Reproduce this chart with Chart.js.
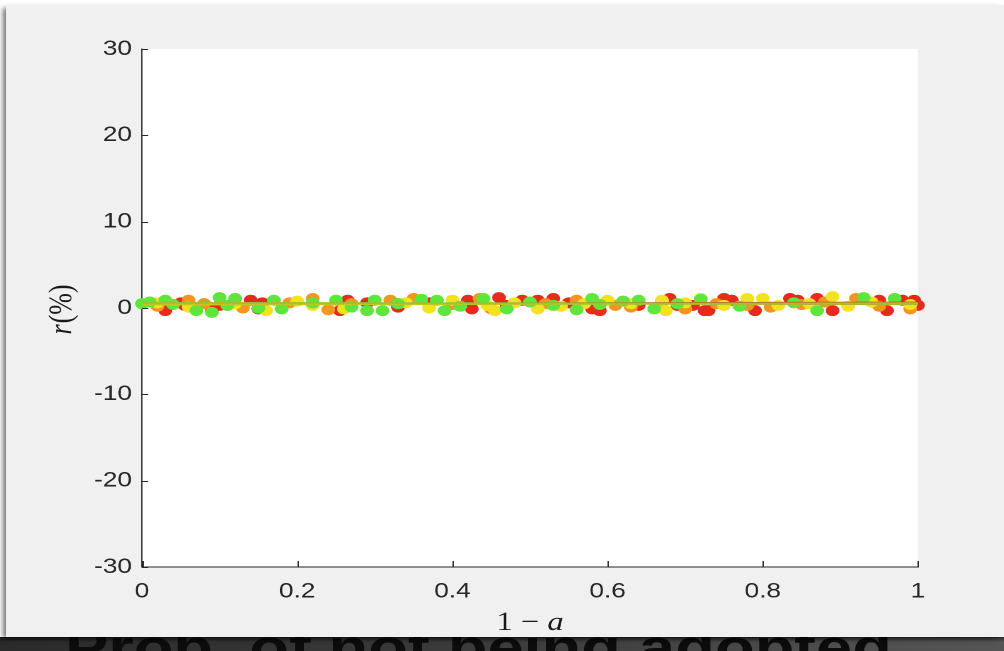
<!DOCTYPE html>
<html>
<head>
<meta charset="utf-8">
<script src="https://cdn.jsdelivr.net/npm/chart.js@4.4.1/dist/chart.umd.min.js"></script>
<style>
    html, body { margin: 0; padding: 0; background: #ffffff; }
    #stage { position: relative; width: 1004px; height: 651px; overflow: hidden; background: #ffffff; }
    #panel {
        position: absolute; left: 6px; top: 5px; width: 998px; height: 632px;
        background: #f0f0f0;
        box-shadow: -4px 2px 5px -1px rgba(0, 0, 0, 0.55);
    }
    #band {
        position: absolute; left: 0; top: 637px; width: 1004px; height: 14px; overflow: hidden;
        background: linear-gradient(to right, #2a2a2a, #3c3c3c 50%, #555555);
    }
    #band span {
        position: absolute; left: 65px; top: -16px; white-space: nowrap;
        font: bold 52px "Liberation Sans", Arial, sans-serif; line-height: 52px;
        color: #0c0c0c; transform: scaleX(1.25); transform-origin: 0 0;
    }
    #band::after {
        content: ""; position: absolute; left: 0; top: 0; right: 0; height: 5px;
        background: linear-gradient(to bottom, rgba(0,0,0,0.45), rgba(0,0,0,0));
    }
    #wrap { position: absolute; left: 0; top: 0; width: 803px; height: 637px; transform: scaleX(1.25); transform-origin: 0 0; }
</style>
</head>
<body>
<div id="stage">
    <div id="band"><span>Prob. of not being adopted</span></div>
    <div id="panel"></div>
    <div id="wrap"><canvas id="theGraph" width="803" height="637"></canvas></div>
</div>
<script>
// tick labels
var xTicks = [0, 0.2, 0.4, 0.6, 0.8, 1];
var xTickLabels = ["0", "0.2", "0.4", "0.6", "0.8", "1"];
var yTicks = [-30, -20, -10, 0, 10, 20, 30];
var yTickLabels = ["-30", "-20", "-10", "0", "10", "20", "30"];

// scatter series (1 - a, r in %)
var greenX = [0.00, 0.01, 0.03, 0.04, 0.07, 0.09, 0.10, 0.11, 0.12, 0.15, 0.17, 0.18, 0.22, 0.25, 0.27, 0.29, 0.30, 0.31, 0.33, 0.36,
              0.38, 0.39, 0.41, 0.44, 0.47, 0.50, 0.53, 0.56, 0.58, 0.59, 0.62, 0.64, 0.66, 0.69, 0.72, 0.77, 0.84, 0.87, 0.93, 0.97];
var greenY = [0.5, 0.7, 0.9, 0.4, -0.3, -0.5, 1.2, 0.3, 1.1, 0.0, 0.9, -0.1, 0.6, 0.9, 0.1, -0.3, 0.9, -0.3, 0.5, 1.0,
              0.9, -0.3, 0.2, 1.1, -0.1, 0.7, 0.3, -0.2, 1.1, 0.4, 0.8, 0.9, -0.1, 0.5, 1.0, 0.2, 0.6, -0.3, 1.2, 1.1];

var yellowX = [0.02, 0.06, 0.12, 0.16, 0.20, 0.22, 0.26, 0.34, 0.37, 0.40, 0.445, 0.455, 0.48, 0.51, 0.54, 0.57,
               0.60, 0.63, 0.67, 0.675, 0.70, 0.72, 0.75, 0.78, 0.80, 0.82, 0.86, 0.89, 0.91, 0.94, 0.99];
var yellowY = [0.6, 0.1, 0.5, -0.3, 0.8, 0.3, -0.1, 0.6, 0.0, 0.9, 0.3, -0.3, 0.6, -0.1, 0.2, 0.5,
               0.9, 0.5, 0.9, -0.3, 0.6, 1.1, 0.3, 1.1, 1.1, 0.3, 0.5, 1.3, 0.2, 0.7, 0.4];

var orangeX = [0.02, 0.06, 0.08, 0.11, 0.13, 0.19, 0.22, 0.24, 0.27, 0.32, 0.33, 0.35, 0.40, 0.435, 0.45,
               0.52, 0.56, 0.61, 0.63, 0.67, 0.70, 0.74, 0.78, 0.81, 0.85, 0.88, 0.92, 0.95, 0.99];
var orangeY = [0.2, 0.9, 0.5, 0.3, 0.0, 0.6, 1.1, -0.2, 0.5, 0.9, 0.5, 1.1, 0.4, 1.1, -0.1,
               0.5, 0.9, 0.3, 0.1, 0.7, -0.1, 0.5, 0.3, 0.1, 0.4, 0.7, 1.1, 0.2, -0.1];

var redX = [0.03, 0.05, 0.055, 0.09, 0.10, 0.14, 0.15, 0.155, 0.255, 0.265, 0.29, 0.33, 0.37, 0.42, 0.425, 0.46, 0.47, 0.49, 0.51, 0.53,
            0.55, 0.58, 0.59, 0.64, 0.68, 0.69, 0.71, 0.725, 0.73, 0.75, 0.76, 0.79, 0.835, 0.845, 0.87, 0.89, 0.95, 0.96, 0.98, 0.995, 1.0];
var redY = [-0.3, 0.6, 0.3, -0.3, 0.3, 0.9, -0.1, 0.6, -0.3, 0.9, 0.6, 0.1, 0.6, 0.9, -0.1, 1.2, 0.3, 0.9, 0.9, 1.1,
            0.6, -0.1, -0.3, 0.3, 1.1, 0.3, 0.3, -0.3, -0.3, 1.1, 0.9, -0.3, 1.1, 0.9, 1.1, -0.3, 0.9, -0.3, 0.9, 0.9, 0.3];

// fitted lines, value at x = 0 and x = 1
var fitX = [0, 1];
var greenFit = [0.55, 0.5];
var yellowFit = [0.4, 0.55];
var orangeFit = [0.6, 0.45];
var redFit = [0.45, 0.62];

function toPoints(xs, ys) {
    return xs.map(function (x, i) { return {x: x, y: ys[i]}; });
}

function dots(xs, ys, colour) {
    return {
        type: "scatter",
        data: toPoints(xs, ys),
        pointRadius: 5.5,
        pointBorderWidth: 0,
        pointBackgroundColor: colour,
        clip: false,
        order: 2
    };
}

function fitLine(ys, colour) {
    return {
        type: "line",
        data: toPoints(fitX, ys),
        borderColor: colour,
        borderWidth: 2,
        pointRadius: 0,
        fill: false,
        order: 1
    };
}

var inkColour = "#262626";
var tickFont = {family: "'Liberation Sans', Arial, sans-serif", size: 21};

// white axes box, inward ticks and the two LaTeX-like axis labels
var matlabAxes = {
    id: "matlabAxes",
    beforeDraw: function (chart) {
        var a = chart.chartArea, ctx = chart.ctx;
        ctx.save();
        ctx.fillStyle = "#ffffff";
        ctx.fillRect(a.left, a.top, a.right - a.left, a.bottom - a.top);
        ctx.restore();
    },
    afterDraw: function (chart) {
        var a = chart.chartArea, ctx = chart.ctx;
        var xs = chart.scales.x, ys = chart.scales.y;
        ctx.save();
        ctx.strokeStyle = inkColour;
        ctx.lineWidth = 1;
        xTicks.forEach(function (v) {
            var px = Math.round(xs.getPixelForValue(v)) + 0.5;
            ctx.beginPath(); ctx.moveTo(px, a.bottom); ctx.lineTo(px, a.bottom - 6); ctx.stroke();
        });
        yTicks.forEach(function (v) {
            var py = Math.round(ys.getPixelForValue(v)) + 0.5;
            ctx.beginPath(); ctx.moveTo(a.left, py); ctx.lineTo(a.left + 5, py); ctx.stroke();
        });

        ctx.fillStyle = "#1a1a1a";
        ctx.textBaseline = "alphabetic";
        // x label: 1 − a
        var upright = "26px 'Liberation Serif', 'DejaVu Serif', serif";
        var italic = "italic 26px 'Liberation Serif', 'DejaVu Serif', serif";
        ctx.font = upright;
        var w1 = ctx.measureText("1 \u2212 ").width;
        ctx.font = italic;
        var w2 = ctx.measureText("a").width;
        var cx = (a.left + a.right) / 2;
        var x0 = cx - (w1 + w2) / 2;
        ctx.font = upright;
        ctx.fillText("1 \u2212 ", x0, 630);
        ctx.font = italic;
        ctx.fillText("a", x0 + w1, 630);

        // y label: r(%)
        ctx.translate(57, (a.top + a.bottom) / 2 + 2);
        ctx.rotate(-Math.PI / 2);
        ctx.font = italic;
        var r1 = ctx.measureText("r").width;
        ctx.font = upright;
        var r2 = ctx.measureText("(%)").width;
        var y0 = -(r1 + r2) / 2;
        ctx.font = italic;
        ctx.fillText("r", y0, 0);
        ctx.font = upright;
        ctx.fillText("(%)", y0 + r1 + 1, 0);
        ctx.restore();
    }
};

var ctx = document.getElementById("theGraph").getContext("2d");
var theGraph = new Chart(ctx, {
    type: "scatter",
    data: {
        datasets: [
            dots(greenX, greenY, "#5fe53b"),
            dots(yellowX, yellowY, "#f3e31f"),
            dots(orangeX, orangeY, "#f2961f"),
            dots(redX, redY, "#e82a1c"),
            fitLine(greenFit, "#86cf3a"),
            fitLine(yellowFit, "#d8c41c"),
            fitLine(orangeFit, "#e89519"),
            fitLine(redFit, "#d9301c")
        ]
    },
    options: {
        responsive: false,
        animation: false,
        devicePixelRatio: 2,
        layout: {padding: {left: 0, top: 49, right: 803 - 734.4, bottom: 0}},
        plugins: {
            legend: {display: false},
            tooltip: {enabled: false}
        },
        scales: {
            x: {
                type: "linear",
                min: 0,
                max: 1,
                grid: {display: false, drawTicks: false},
                border: {color: inkColour, width: 1},
                ticks: {
                    color: inkColour,
                    font: tickFont,
                    padding: 12,
                    maxRotation: 0,
                    callback: function (v) {
                        var i = xTicks.indexOf(Math.round(v * 10) / 10);
                        return i < 0 ? "" : xTickLabels[i];
                    }
                },
                afterBuildTicks: function (scale) {
                    scale.ticks = xTicks.map(function (v) { return {value: v}; });
                },
                afterFit: function (scale) { scale.height = 637 - 567; }
            },
            y: {
                type: "linear",
                min: -30,
                max: 30,
                grid: {display: false, drawTicks: false},
                border: {color: inkColour, width: 1},
                ticks: {
                    color: inkColour,
                    font: tickFont,
                    padding: 8,
                    callback: function (v) {
                        var i = yTicks.indexOf(v);
                        return i < 0 ? "" : yTickLabels[i];
                    }
                },
                afterBuildTicks: function (scale) {
                    scale.ticks = yTicks.map(function (v) { return {value: v}; });
                },
                afterFit: function (scale) { scale.width = 113.6; }
            }
        }
    },
    plugins: [matlabAxes]
});
</script>
</body>
</html>
